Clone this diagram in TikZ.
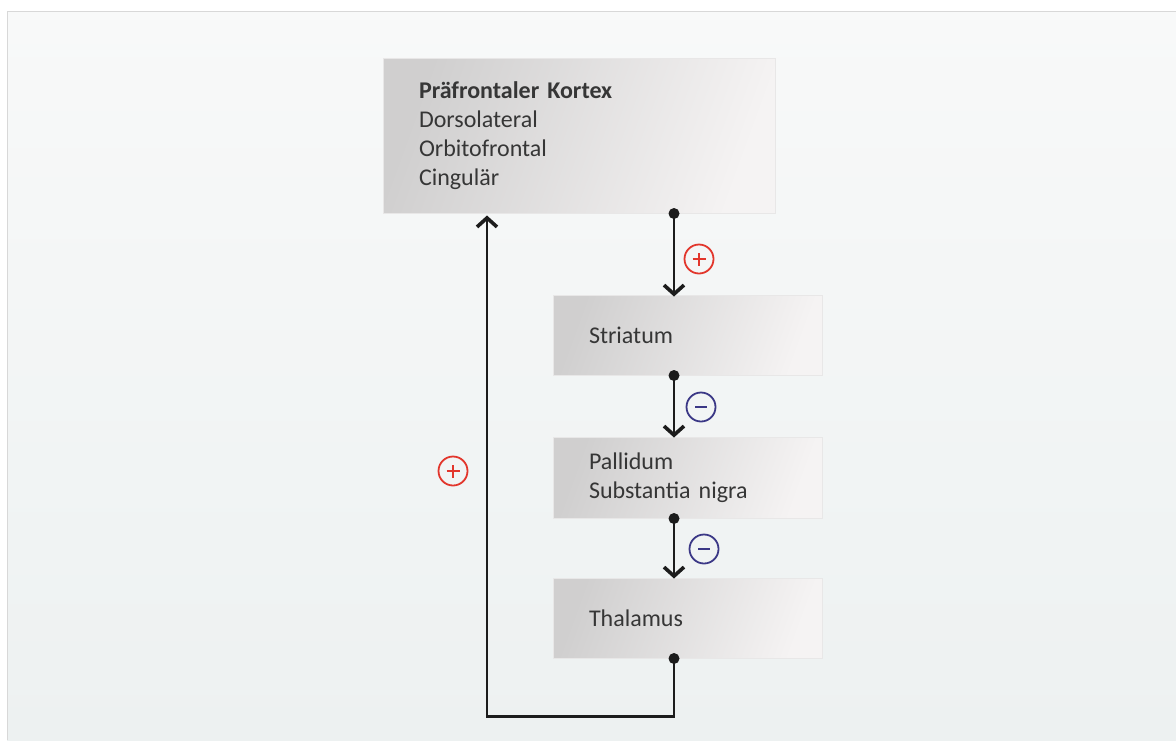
\documentclass[tikz,border=0pt]{standalone}
\usepackage{fontspec}
\setmainfont{Carlito}
\usetikzlibrary{arrows.meta,calc}

\definecolor{panelTop}{HTML}{F8F9F9}
\definecolor{panelBot}{HTML}{EDF1F1}
\definecolor{panelEdge}{HTML}{D8D8D8}
\definecolor{boxDark}{HTML}{D0CFCF}
\definecolor{boxMid}{HTML}{E6E5E5}
\definecolor{boxLight}{HTML}{F5F3F3}
\definecolor{boxEdge}{HTML}{E8E7E7}
\definecolor{txt}{HTML}{363636}
\definecolor{wire}{HTML}{1C1C1C}
\definecolor{excite}{HTML}{E2362C}
\definecolor{inhibit}{HTML}{3B3886}

\tikzset{
  region/.style={rectangle, draw=boxEdge, line width=1pt,
    left color=boxDark, middle color=boxMid, right color=boxLight, shading angle=70,
    text=txt, align=left, inner xsep=36pt, inner ysep=0pt,
    font=\fontsize{24}{29}\selectfont},
  link/.style={draw=wire, line width=2.2pt,
    -{Straight Barb[length=9pt,width=20pt,line width=3.6pt]}},
  dotnode/.style={circle, fill=wire, inner sep=0pt, minimum size=11pt},
  sign/.style={circle, draw=#1, line width=1.8pt, minimum size=29pt, inner sep=0pt},
  plussign/.style={sign=excite, path picture={
    \draw[excite, line width=1.8pt]
      ($(path picture bounding box.center)+(-6.5pt,0)$) -- ($(path picture bounding box.center)+(6.5pt,0)$)
      ($(path picture bounding box.center)+(0,-6.5pt)$) -- ($(path picture bounding box.center)+(0,6.5pt)$);}},
  minussign/.style={sign=inhibit, path picture={
    \draw[inhibit, line width=2pt]
      ($(path picture bounding box.center)+(-6pt,0)$) -- ($(path picture bounding box.center)+(6pt,0)$);}},
}

\begin{document}
\begin{tikzpicture}[x=1pt,y=-1pt]
  \useasboundingbox (0,0) rectangle (1176,740);
  % backdrop panel
  \fill[white] (0,0) rectangle (1176,740);
  \shade[top color=panelTop, bottom color=panelBot] (7,11) rectangle (1176,740);
  \draw[panelEdge, line width=1.2pt] (7.5,740) -- (7.5,11.5) -- (1176,11.5);

  % regions of the loop
  \node[region, minimum width=392pt, minimum height=155pt, text width=320pt]
    (pfc) at (579,135.5)
    {\textbf{Präfrontaler Kortex}\\Dorsolateral\\Orbitofrontal\\Cingulär};
  \node[region, minimum width=269pt, minimum height=80pt, text width=197pt]
    (str) at (687.5,335) {Striatum};
  \node[region, minimum width=269pt, minimum height=81pt, text width=197pt]
    (pal) at (687.5,477.5) {Pallidum\\Substantia nigra};
  \node[region, minimum width=269pt, minimum height=80pt, text width=197pt]
    (tha) at (687.5,618) {Thalamus};

  % connector columns
  \coordinate (colx) at (674,0);
  \coordinate (fbx) at (487,0);

  % direct pathway chain
  \draw[link] (pfc.south -| colx) node[dotnode]{} -- ($(str.north -| colx)+(0,2)$);
  \draw[link] (str.south -| colx) node[dotnode]{} -- ($(pal.north -| colx)+(0,1)$);
  \draw[link] (pal.south -| colx) node[dotnode]{} -- ($(tha.north -| colx)+(0,1)$);

  % thalamocortical feedback
  \draw[link] (tha.south -| colx) node[dotnode]{} -- ++(0,58) -| ($(pfc.south -| fbx)+(0,2)$);

  % signs
  \node[plussign] (s1) at (699,259) {};
  \node[minussign] (s2) at (701,407) {};
  \node[minussign] (s3) at (704,549) {};
  \node[plussign] (s4) at (453,471) {};
\end{tikzpicture}
\end{document}
